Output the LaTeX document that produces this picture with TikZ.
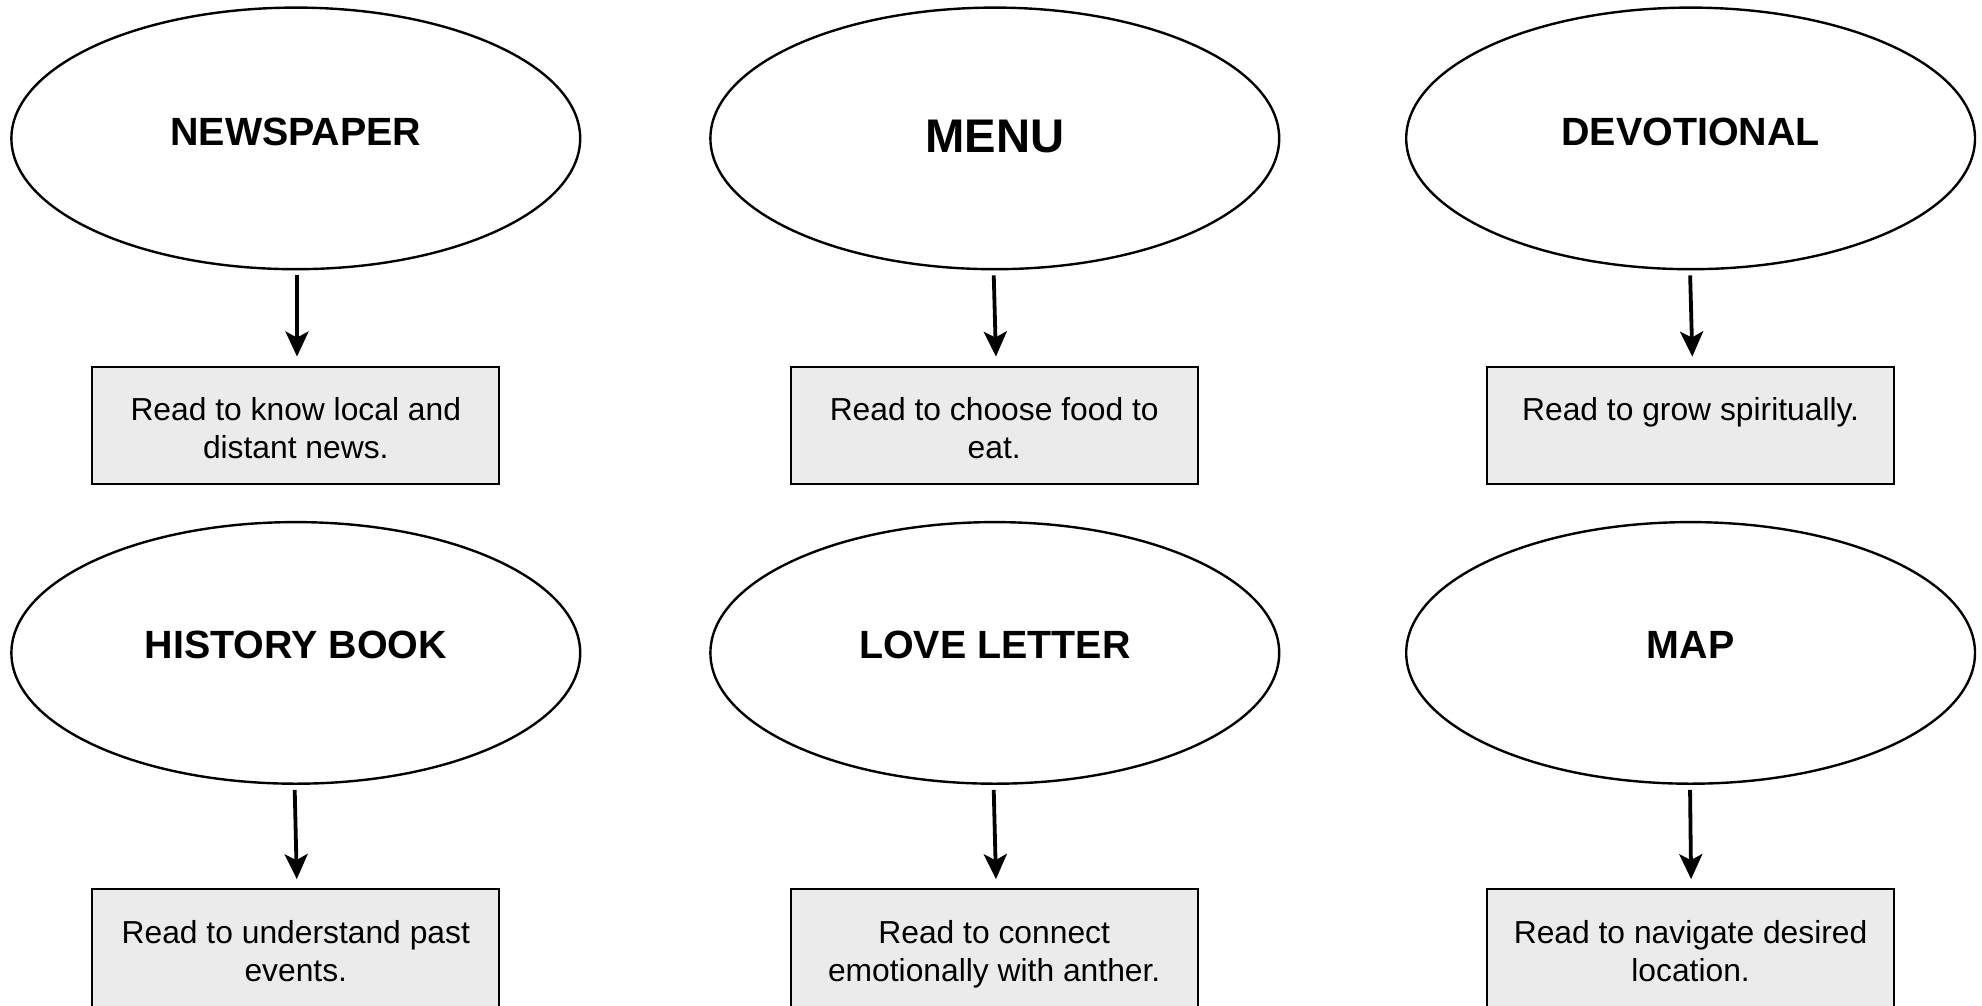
\documentclass[tikz,border=0pt]{standalone}
\usepackage{fontspec}
\setmainfont{Liberation Sans}
\usetikzlibrary{shapes.geometric,arrows.meta}
\definecolor{boxfill}{RGB}{235,235,235}
\tikzset{
  oval/.style={ellipse, draw=black, line width=1.2pt, fill=white,
    minimum width=284.4pt, minimum height=130.8pt, inner sep=0pt},
  ovaltext/.style={font=\bfseries\fontsize{19.7pt}{22pt}\selectfont, inner sep=0pt},
  bigovaltext/.style={font=\bfseries\fontsize{23.6pt}{26pt}\selectfont, inner sep=0pt},
  infobox/.style={rectangle, draw=black, line width=1.1pt, fill=boxfill,
    minimum width=203.5pt, minimum height=58.75pt, inner sep=0pt},
  boxtext/.style={anchor=north, inner sep=0pt, align=center,
    font=\fontsize{15.9pt}{19pt}\selectfont},
  link/.style={line width=1.9pt, -{Stealth[length=12.5pt, width=11.5pt, inset=3pt]}}
}
\begin{document}
\begin{tikzpicture}[x=0.5pt, y=-0.5pt]
\useasboundingbox (0,0) rectangle (1982,1006);
% ellipses
\node[oval] (e1) at (295.8,138.4) {};
\node[oval] (e2) at (994.8,138.4) {};
\node[oval] (e3) at (1690.6,138.4) {};
\node[oval] (e4) at (295.8,652.9) {};
\node[oval] (e5) at (994.8,652.9) {};
\node[oval] (e6) at (1690.6,652.9) {};
% ellipse labels
\node[ovaltext] (t1) at (295.8,131.5) {NEWSPAPER};
\node[bigovaltext] (t2) at (994.8,136.5) {MENU};
\node[ovaltext] (t3) at (1690.6,131.5) {DEVOTIONAL};
\node[ovaltext] (t4) at (295.8,645) {HISTORY BOOK};
\node[ovaltext] (t5) at (994.8,645) {LOVE LETTER};
\node[ovaltext] (t6) at (1690.6,645) {MAP};
% boxes
\node[infobox] (b1) at (295.8,425.4) {};
\node[infobox] (b2) at (994.2,425.4) {};
\node[infobox] (b3) at (1690.6,425.4) {};
\node[infobox] (b4) at (295.8,948) {};
\node[infobox] (b5) at (994.2,948) {};
\node[infobox] (b6) at (1690.6,948) {};
% box texts
\node[boxtext] (x1) at ([yshift=-15.8pt]b1.north) {Read to know local and\\distant news.};
\node[boxtext] (x2) at ([yshift=-15.8pt]b2.north) {Read to choose food to\\eat.};
\node[boxtext] (x3) at ([yshift=-15.8pt]b3.north) {Read to grow spiritually.};
\node[boxtext] (x4) at ([yshift=-15.8pt]b4.north) {Read to understand past\\events.};
\node[boxtext] (x5) at ([yshift=-15.8pt]b5.north) {Read to connect\\emotionally with anther.};
\node[boxtext] (x6) at ([yshift=-15.8pt]b6.north) {Read to navigate desired\\location.};
% arrows
\draw[link, shorten <=2.5pt, shorten >=4.5pt] ([xshift=0.6pt]e1.south) -- ([xshift=0.6pt]b1.north);
\draw[link, shorten <=2.5pt, shorten >=4.5pt] ([xshift=-0.6pt]e2.south) -- ([xshift=1pt]b2.north);
\draw[link, shorten <=2.5pt, shorten >=4.5pt] ([xshift=-0.3pt]e3.south) -- ([xshift=1pt]b3.north);
\draw[link, shorten <=2.5pt, shorten >=4.5pt] ([xshift=-0.6pt]e4.south) -- ([xshift=0.6pt]b4.north);
\draw[link, shorten <=2.5pt, shorten >=4.5pt] ([xshift=-0.6pt]e5.south) -- ([xshift=1pt]b5.north);
\draw[link, shorten <=2.5pt, shorten >=4.5pt] ([xshift=-0.3pt]e6.south) -- ([xshift=0.3pt]b6.north);
\end{tikzpicture}
\end{document}
